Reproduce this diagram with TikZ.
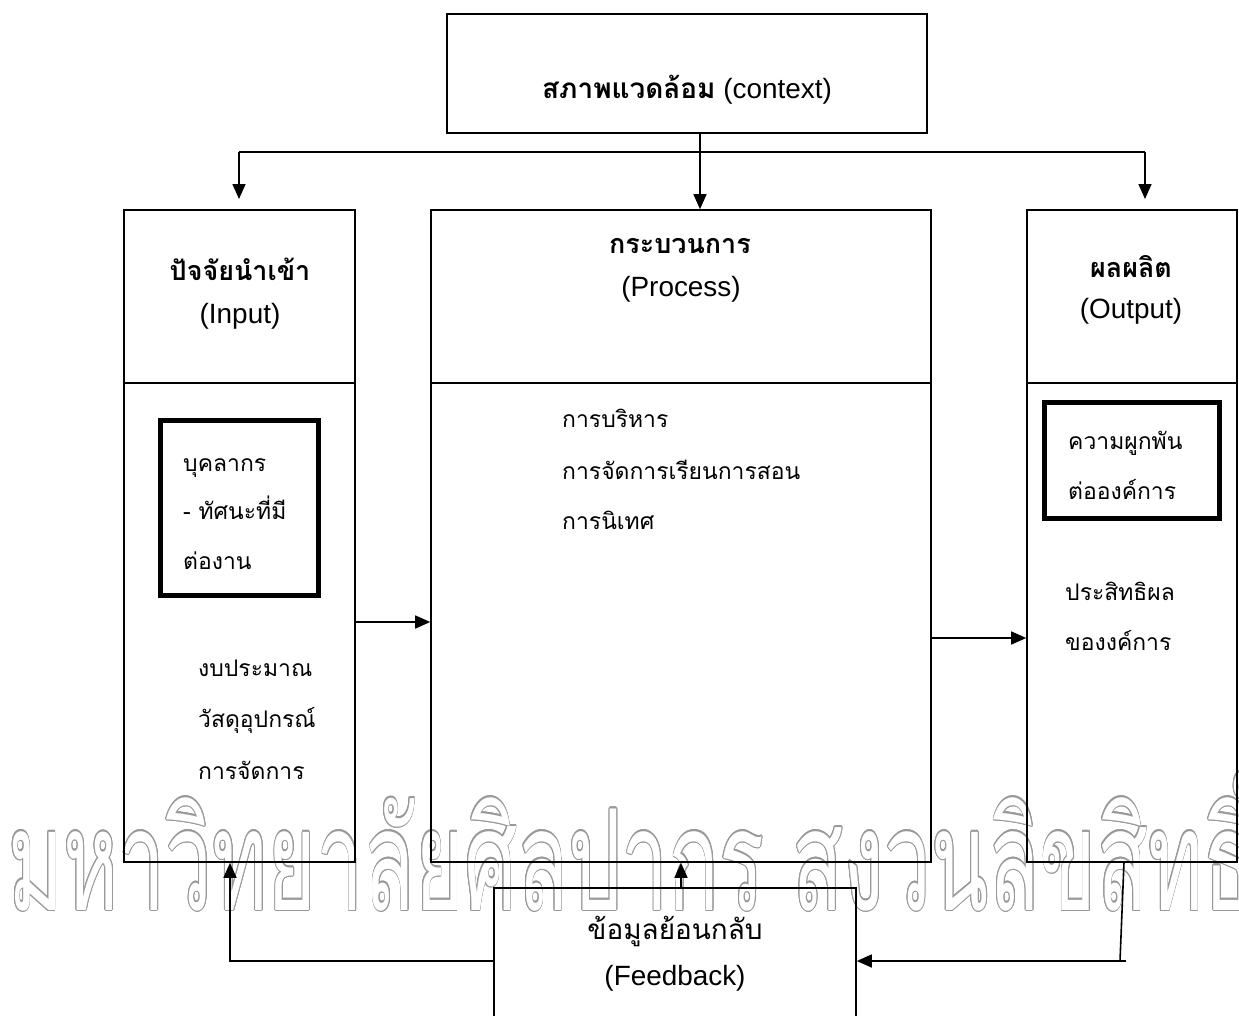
\documentclass[tikz,border=0pt]{standalone}
\usepackage{fontspec}
\setmainfont{Liberation Sans}
\newfontfamily\thai[Script=Thai]{Loma}
\usepackage{contour}
\contourlength{1.3pt}
\usetikzlibrary{arrows.meta}
\begin{document}
\begin{tikzpicture}[x=1bp,y=-1bp,
  box/.style={draw, line width=1.6bp, inner sep=0},
  heavybox/.style={draw, line width=5bp, inner sep=0},
  arr/.style={line width=1.6bp, -{Triangle[length=15bp,width=13bp]}},
  ln/.style={line width=1.6bp},
  th/.style={font=\thai\fontsize{23}{27}\selectfont, anchor=base west, inner sep=0},
  thb/.style={font=\thai\bfseries\fontsize{27}{30}\selectfont, anchor=base, inner sep=0},
  thc/.style={font=\thai\fontsize{28}{30}\selectfont, anchor=base, inner sep=0},
  lat/.style={font=\fontsize{28}{32}\selectfont, anchor=base, inner sep=0}]
\useasboundingbox (0,0) rectangle (1239,1016);
% watermark
\node[anchor=base west, inner sep=0] (wm) at (8,910)
  {\scalebox{0.56}[0.94]{\fontsize{150}{150}\thai\contour{black!40}{\color{white}มหาวิทยาลัยศิลปากร สงวนลิขสิทธิ์}}};
% boxes
\node[box, minimum width=480bp, minimum height=119bp] (ctx) at (687,73.5) {};
\node[box, minimum width=231bp, minimum height=652bp] (inp) at (239.5,536) {};
\node[box, minimum width=500bp, minimum height=652bp] (proc) at (681,536) {};
\node[box, minimum width=210bp, minimum height=652bp] (out) at (1132,536) {};
\node[box, minimum width=362bp, minimum height=160bp] (fb) at (675,968) {};
\node[heavybox, minimum width=158bp, minimum height=175bp] (inb) at (239,507.5) {};
\node[heavybox, minimum width=175bp, minimum height=116bp] (outb) at (1131.5,460) {};
% dividers
\coordinate (dv) at (0,383);
\draw[ln] (inp.west |- dv) -- (inp.east |- dv);
\draw[ln] (proc.west |- dv) -- (proc.east |- dv);
\draw[ln] (out.west |- dv) -- (out.east |- dv);
% texts
\node[lat] (ctxt) at (687,98) {{\thai\bfseries สภาพแวดล้อม} (context)};
\node[thb] (t1) at (240,280) {ปัจจัยนำเข้า};
\node[lat] (t1e) at (240,323) {(Input)};
\node[thb] (t2) at (680,253) {กระบวนการ};
\node[lat] (t2e) at (681,296) {(Process)};
\node[thb] (t3) at (1131,277) {ผลผลิต};
\node[lat] (t3e) at (1131,318) {(Output)};
\node[th] (a1) at (183,471) {บุคลากร};
\node[th] (a2) at (183,519) {- ทัศนะที่มี};
\node[th] (a3) at (183,569) {ต่องาน};
\node[th] (a4) at (198,676) {งบประมาณ};
\node[th] (a5) at (198,727) {วัสดุอุปกรณ์};
\node[th] (a6) at (198,779) {การจัดการ};
\node[th] (b1) at (562,427) {การบริหาร};
\node[th] (b2) at (562,479) {การจัดการเรียนการสอน};
\node[th] (b3) at (562,529) {การนิเทศ};
\node[th] (c1) at (1068,449) {ความผูกพัน};
\node[th] (c2) at (1068,499) {ต่อองค์การ};
\node[th] (c3) at (1065,600) {ประสิทธิผล};
\node[th] (c4) at (1065,650) {ของงค์การ};
\node[thc] (d1) at (675,939) {ข้อมูลย้อนกลับ};
\node[lat] (d2) at (675,985) {(Feedback)};
% connectors from context
\coordinate (j) at (700,152);
\coordinate (jl) at (239,152);
\coordinate (jr) at (1145,152);
\coordinate (al) at (239,199);
\coordinate (ar) at (1145,199);
\draw[ln] (jl) -- (jr);
\draw[arr] (ctx.south -| j) -- (j |- proc.north);
\draw[arr] (jl) -- (al);
\draw[arr] (jr) -- (ar);
% flow arrows
\coordinate (y1) at (0,622);
\coordinate (y2) at (0,638);
\draw[arr] (inp.east |- y1) -- (proc.west |- y1);
\draw[arr] (proc.east |- y2) -- (out.west |- y2);
% feedback
\coordinate (o1) at (1124,862);
\coordinate (o2) at (1120,961);
\coordinate (o3) at (1126,961);
\coordinate (f1) at (230,961);
\coordinate (f3) at (681,0);
\draw[ln] (o1) -- (o2);
\draw[arr] (o3) -- (fb.east |- o3);
\draw[arr] (fb.west |- f1) -| (f1 |- inp.south);
\draw[arr] (fb.north -| f3) -- (f3 |- proc.south);
\end{tikzpicture}
\end{document}
